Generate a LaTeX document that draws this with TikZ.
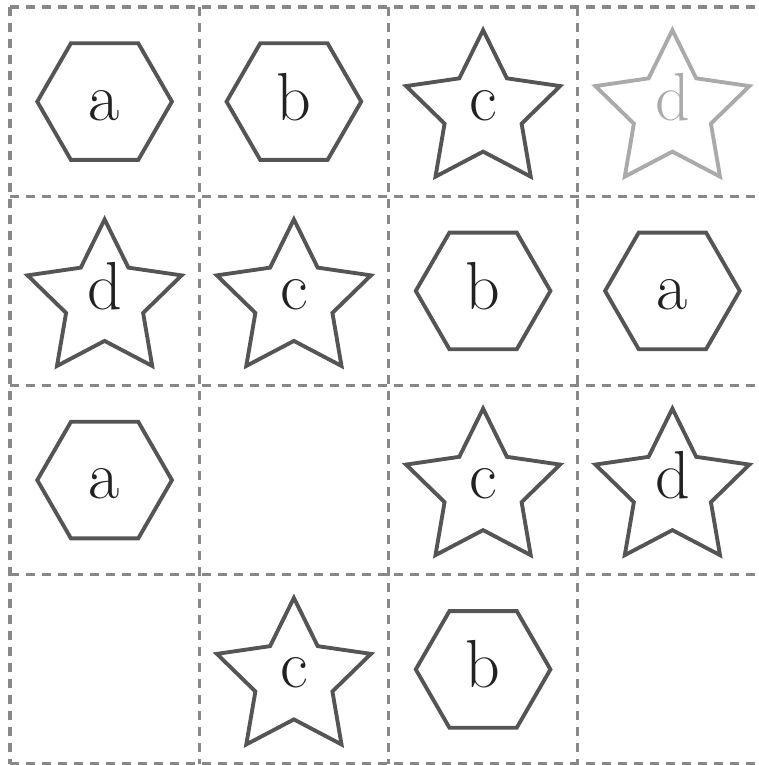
\documentclass[tikz,border=0pt]{standalone}
\usepackage{fontspec}
\usetikzlibrary{shapes.geometric}
\definecolor{shapegray}{HTML}{555555}
\definecolor{gridgray}{HTML}{888888}
\definecolor{palegray}{HTML}{AAAAAA}
\definecolor{txt}{HTML}{222222}
\begin{document}
\begin{tikzpicture}[x=0.75pt,y=-0.75pt,
  hexbox/.style={regular polygon, regular polygon sides=6, draw=shapegray, line width=2.9pt, minimum size=101pt, inner sep=0pt, outer sep=0pt},
  starbox/.style={star, star points=5, star point ratio=2, draw=shapegray, line width=2.9pt, minimum size=121.5pt, inner sep=0pt, outer sep=0pt},
  lbl/.style={font=\rmfamily\fontsize{51}{51}\selectfont, text=txt, inner sep=0pt, anchor=base},
  pale/.style={draw=palegray, text=palegray},
  gridline/.style={draw=gridgray, line width=2.6pt, dash pattern=on 7pt off 5pt}]
\useasboundingbox (0,0) rectangle (759,765);
% grid
\foreach \k in {0,...,4}{
  \draw[gridline] ({10+189.25*\k},7) -- ({10+189.25*\k},764);
  \draw[gridline] (10,{7+189.25*\k}) -- (767,{7+189.25*\k});
}
% row 0
\node[hexbox] (h00) at (104.6,101.6) {};
\node[lbl] (t00) at (104.6,120) {a};
\node[hexbox] (h01) at (293.9,101.6) {};
\node[lbl] (t01) at (293.9,120) {b};
\node[starbox] (s02) at (483.1,111.1) {};
\node[lbl] (t02) at (483.1,120) {c};
\node[starbox,pale] (s03) at (672.4,111.1) {};
\node[lbl,text=palegray] (t03) at (672.4,120) {d};
% row 1
\node[starbox] (s10) at (104.6,300.4) {};
\node[lbl] (t10) at (104.6,309.3) {d};
\node[starbox] (s11) at (293.9,300.4) {};
\node[lbl] (t11) at (293.9,309.3) {c};
\node[hexbox] (h12) at (483.1,290.9) {};
\node[lbl] (t12) at (483.1,309.3) {b};
\node[hexbox] (h13) at (672.4,290.9) {};
\node[lbl] (t13) at (672.4,309.3) {a};
% row 2
\node[hexbox] (h20) at (104.6,480.1) {};
\node[lbl] (t20) at (104.6,498.5) {a};
\node[starbox] (s22) at (483.1,489.6) {};
\node[lbl] (t22) at (483.1,498.5) {c};
\node[starbox] (s23) at (672.4,489.6) {};
\node[lbl] (t23) at (672.4,498.5) {d};
% row 3
\node[starbox] (s31) at (293.9,678.9) {};
\node[lbl] (t31) at (293.9,687.8) {c};
\node[hexbox] (h32) at (483.1,669.4) {};
\node[lbl] (t32) at (483.1,687.8) {b};
\end{tikzpicture}
\end{document}
